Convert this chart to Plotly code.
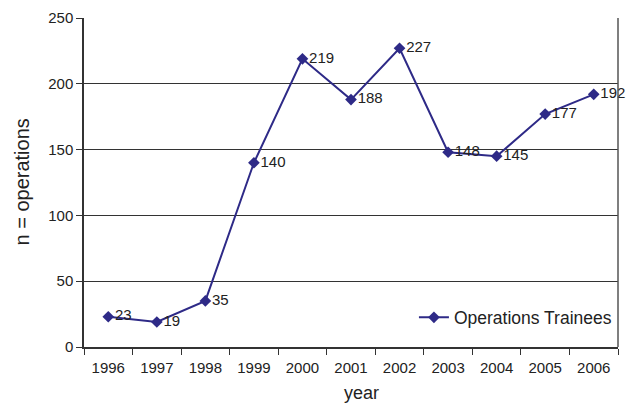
import plotly.graph_objects as go

years = ["1996", "1997", "1998", "1999", "2000", "2001", "2002", "2003", "2004", "2005", "2006"]
operations = [23, 19, 35, 140, 219, 188, 227, 148, 145, 177, 192]
y_ticks = [0, 50, 100, 150, 200, 250]

line_color = "#2E2A87"
font_family = "Liberation Sans, Arial, sans-serif"

fig = go.Figure()
fig.add_trace(go.Scatter(
    x=years,
    y=operations,
    mode="lines+markers+text",
    name="Operations Trainees",
    line=dict(color=line_color, width=2),
    marker=dict(symbol="diamond", size=9, color=line_color),
    text=[str(v) for v in operations],
    textposition="middle right",
    textfont=dict(size=15, color="#222222", family=font_family),
    cliponaxis=False,
))

fig.update_layout(
    width=639,
    height=405,
    margin=dict(l=84, r=21, t=18, b=58, autoexpand=False),
    paper_bgcolor="white",
    plot_bgcolor="white",
    font=dict(family=font_family, size=15, color="#222222"),
    showlegend=True,
    legend=dict(
        x=0.998, y=0.035, xanchor="right", yanchor="bottom",
        bgcolor="rgba(0,0,0,0)",
        font=dict(size=17.5, color="#222222"),
        itemwidth=30,
    ),
    xaxis=dict(
        type="category",
        automargin=False,
        showgrid=False,
        showline=True, linecolor="#333333", linewidth=1.5,
        ticks="outside", tickson="boundaries", ticklen=6,
        tickcolor="#333333",
        ticklabelstandoff=6,
        range=[-0.5, 10.5],
    ),
    yaxis=dict(
        automargin=False,
        range=[0, 250],
        tickvals=y_ticks,
        showgrid=True, gridcolor="#333333", gridwidth=1,
        showline=True, linecolor="#333333", linewidth=1.5,
        ticks="outside", ticklen=6, tickcolor="#333333",
        zeroline=False,
    ),
    annotations=[
        dict(text="year", xref="paper", yref="paper", x=0.52, y=0,
             yshift=-46, xanchor="center", yanchor="middle",
             showarrow=False, font=dict(size=18, color="#222222")),
        dict(text="n = operations", xref="paper", yref="paper", x=0, y=0.5,
             xshift=-63, xanchor="center", yanchor="middle", textangle=-90,
             showarrow=False, font=dict(size=20, color="#222222")),
    ],
)

# right-hand frame edge of the plot area
fig.add_shape(type="line", xref="paper", yref="paper", x0=1, x1=1, y0=0, y1=1,
              line=dict(color="#555555", width=1.5))

fig.write_html("out.html")
